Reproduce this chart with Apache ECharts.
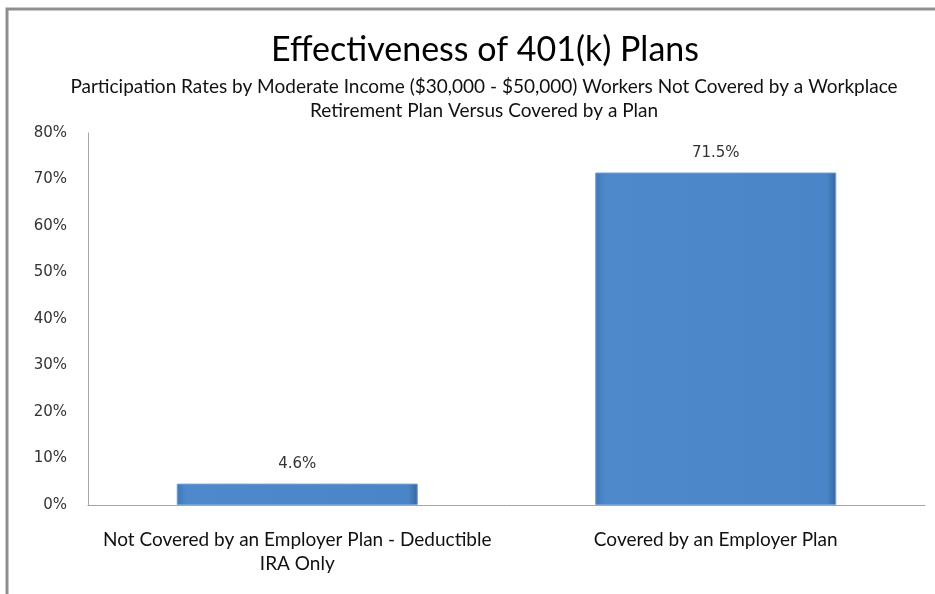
<!DOCTYPE html>
<html>
<head>
<meta charset="utf-8">
<script src="https://cdn.jsdelivr.net/npm/echarts@6/dist/echarts.min.js"></script>
<style>
  html, body { margin: 0; padding: 0; background: #fff; }
  #chart { width: 935px; height: 594px; }
</style>
</head>
<body>
<div id="chart"></div>
<script>
const categories = ['Not Covered by an Employer Plan - Deductible\nIRA Only', 'Covered by an Employer Plan']
const rates = [4.6, 71.5]
const yTicks = { min: 0, max: 80, interval: 10 }

const chart = echarts.init(document.getElementById('chart'), null, { renderer: 'canvas' })

// bevel-ish blue like the office chart
const barFill = new echarts.graphic.LinearGradient(0, 0, 1, 0, [
    { offset: 0, color: '#3f77b8' },
    { offset: 0.04, color: '#4e89cc' },
    { offset: 0.96, color: '#4a85c8' },
    { offset: 1, color: '#35679f' }
])

const option = {
    animation: false,
    textStyle: {
        fontFamily: 'Lato, sans-serif'
    },
    title: [{
        text: 'Effectiveness of 401(k) Plans',
        left: 480,
        top: 28,
        textAlign: 'center',
        textStyle: {
            fontFamily: 'Lato',
            fontSize: 34,
            fontWeight: 'normal',
            color: '#000'
        }
    }, {
        text: 'Participation Rates by Moderate Income ($30,000 - $50,000) Workers Not Covered by a Workplace\nRetirement Plan Versus Covered by a Plan',
        left: 479,
        top: 70,
        textAlign: 'center',
        textStyle: {
            fontFamily: 'Lato',
            fontSize: 19,
            fontWeight: 'normal',
            lineHeight: 24,
            color: '#111'
        }
    }],
    grid: {
        left: 88,
        right: 10,
        top: 133,
        bottom: 89,
        containLabel: false
    },
    xAxis: {
        type: 'category',
        data: categories,
        axisLine: { lineStyle: { color: '#a6a6a6', width: 1 } },
        axisTick: { show: false },
        axisLabel: {
            interval: 0,
            margin: 23,
            fontSize: 19,
            lineHeight: 24,
            color: '#111',
            fontFamily: 'Lato'
        }
    },
    yAxis: {
        type: 'value',
        min: yTicks.min,
        max: yTicks.max,
        interval: yTicks.interval,
        axisLine: { show: true, lineStyle: { color: '#a6a6a6', width: 1 } },
        axisTick: { show: false },
        splitLine: { show: false },
        axisLabel: {
            formatter: '{value}%',
            margin: 21,
            fontSize: 15,
            color: '#333',
            fontFamily: 'DejaVu Sans'
        }
    },
    series: [{
        type: 'bar',
        data: rates,
        barWidth: '57.6%',
        itemStyle: {
            color: barFill,
            borderColor: '#6f9fd6',
            borderWidth: 1
        },
        label: {
            show: true,
            position: 'top',
            distance: 12,
            formatter: function (p) {
                return p.value.toFixed(1) + '%'
            },
            fontSize: 15,
            color: '#333',
            fontFamily: 'DejaVu Sans'
        }
    }],
    graphic: [{
        type: 'rect',
        shape: { x: 7, y: 9, width: 960, height: 620 },
        style: { fill: 'none', stroke: '#8f8f8f', lineWidth: 3 },
        silent: true
    }]
}

chart.setOption(option)
</script>
</body>
</html>
